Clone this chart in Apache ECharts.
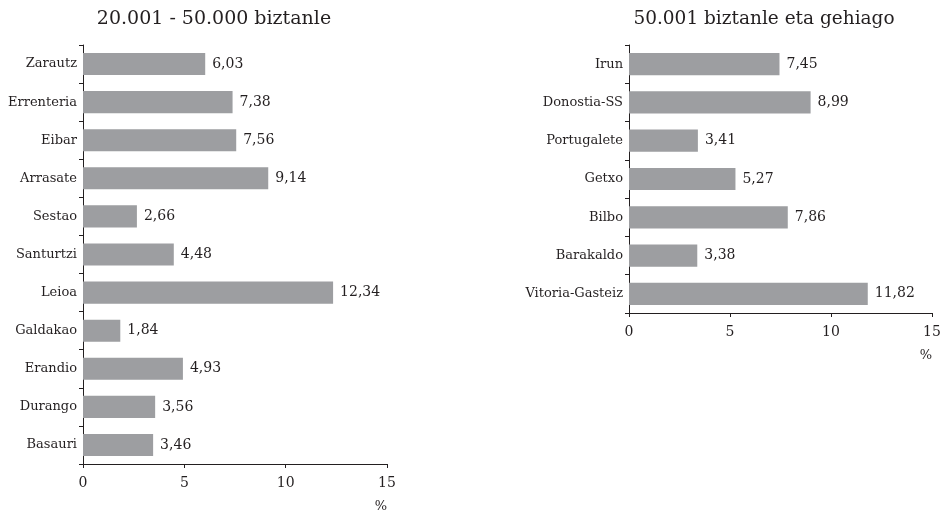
<!DOCTYPE html>
<html><head><meta charset="utf-8">
<script src="https://cdn.jsdelivr.net/npm/echarts@6/dist/echarts.min.js"></script>
<style>html,body{margin:0;padding:0;background:#fff}#c{width:947px;height:518px}</style>
</head><body><div id="c"></div>
<script>
const leftTitle = '20.001 - 50.000 biztanle';
const rightTitle = '50.001 biztanle eta gehiago';
const leftCats = ['Zarautz','Errenteria','Eibar','Arrasate','Sestao','Santurtzi','Leioa','Galdakao','Erandio','Durango','Basauri'];
const leftVals = [6.03,7.38,7.56,9.14,2.66,4.48,12.34,1.84,4.93,3.56,3.46];
const rightCats = ['Irun','Donostia-SS','Portugalete','Getxo','Bilbo','Barakaldo','Vitoria-Gasteiz'];
const rightVals = [7.45,8.99,3.41,5.27,7.86,3.38,11.82];
const axisUnit = '%';

const FONT = 'DejaVu Serif';
const INK = '#231f20';
const BAR = '#9d9ea1';

function xAx(gi){
  return {gridIndex:gi,type:'value',min:0,max:15,interval:5,
    axisLine:{show:true,lineStyle:{color:INK,width:1}},
    axisTick:{show:true,length:4,lineStyle:{color:INK}},
    splitLine:{show:false},
    axisLabel:{color:INK,fontFamily:FONT,fontSize:14,margin:12},
    name:axisUnit,nameLocation:'end',nameGap:0,
    nameTextStyle:{color:INK,fontFamily:FONT,fontSize:13,align:'right',verticalAlign:'top',padding:[36,0,0,0]}
  };
}
function yAx(gi,cats){
  return {gridIndex:gi,type:'category',data:cats,inverse:true,
    axisLine:{show:true,lineStyle:{color:INK,width:1}},
    axisTick:{show:true,length:4,lineStyle:{color:INK}},
    axisLabel:{color:INK,fontFamily:FONT,fontSize:13,margin:6}
  };
}
function ser(gi,vals){
  return {type:'bar',xAxisIndex:gi,yAxisIndex:gi,data:vals,barCategoryGap:'42%',
    itemStyle:{color:BAR},
    label:{show:true,position:'right',distance:7,color:INK,fontFamily:FONT,fontSize:14,
      formatter:p=>p.value.toFixed(2).replace('.',',')},
    animation:false};
}
const chart = echarts.init(document.getElementById('c'),null,{renderer:'canvas'});
chart.setOption({
  animation:false,
  title:[
    {text:leftTitle,left:209,top:5,textAlign:'center',textStyle:{fontFamily:FONT,fontSize:19,fontWeight:'normal',color:INK}},
    {text:rightTitle,left:759,top:5,textAlign:'center',textStyle:{fontFamily:FONT,fontSize:18.5,fontWeight:'normal',color:INK}}
  ],
  grid:[
    {left:83,width:304,top:45,height:419},
    {left:629,width:303,top:45,height:268}
  ],
  xAxis:[xAx(0),xAx(1)],
  yAxis:[yAx(0,leftCats),yAx(1,rightCats)],
  series:[ser(0,leftVals),ser(1,rightVals)]
});
</script></body></html>
